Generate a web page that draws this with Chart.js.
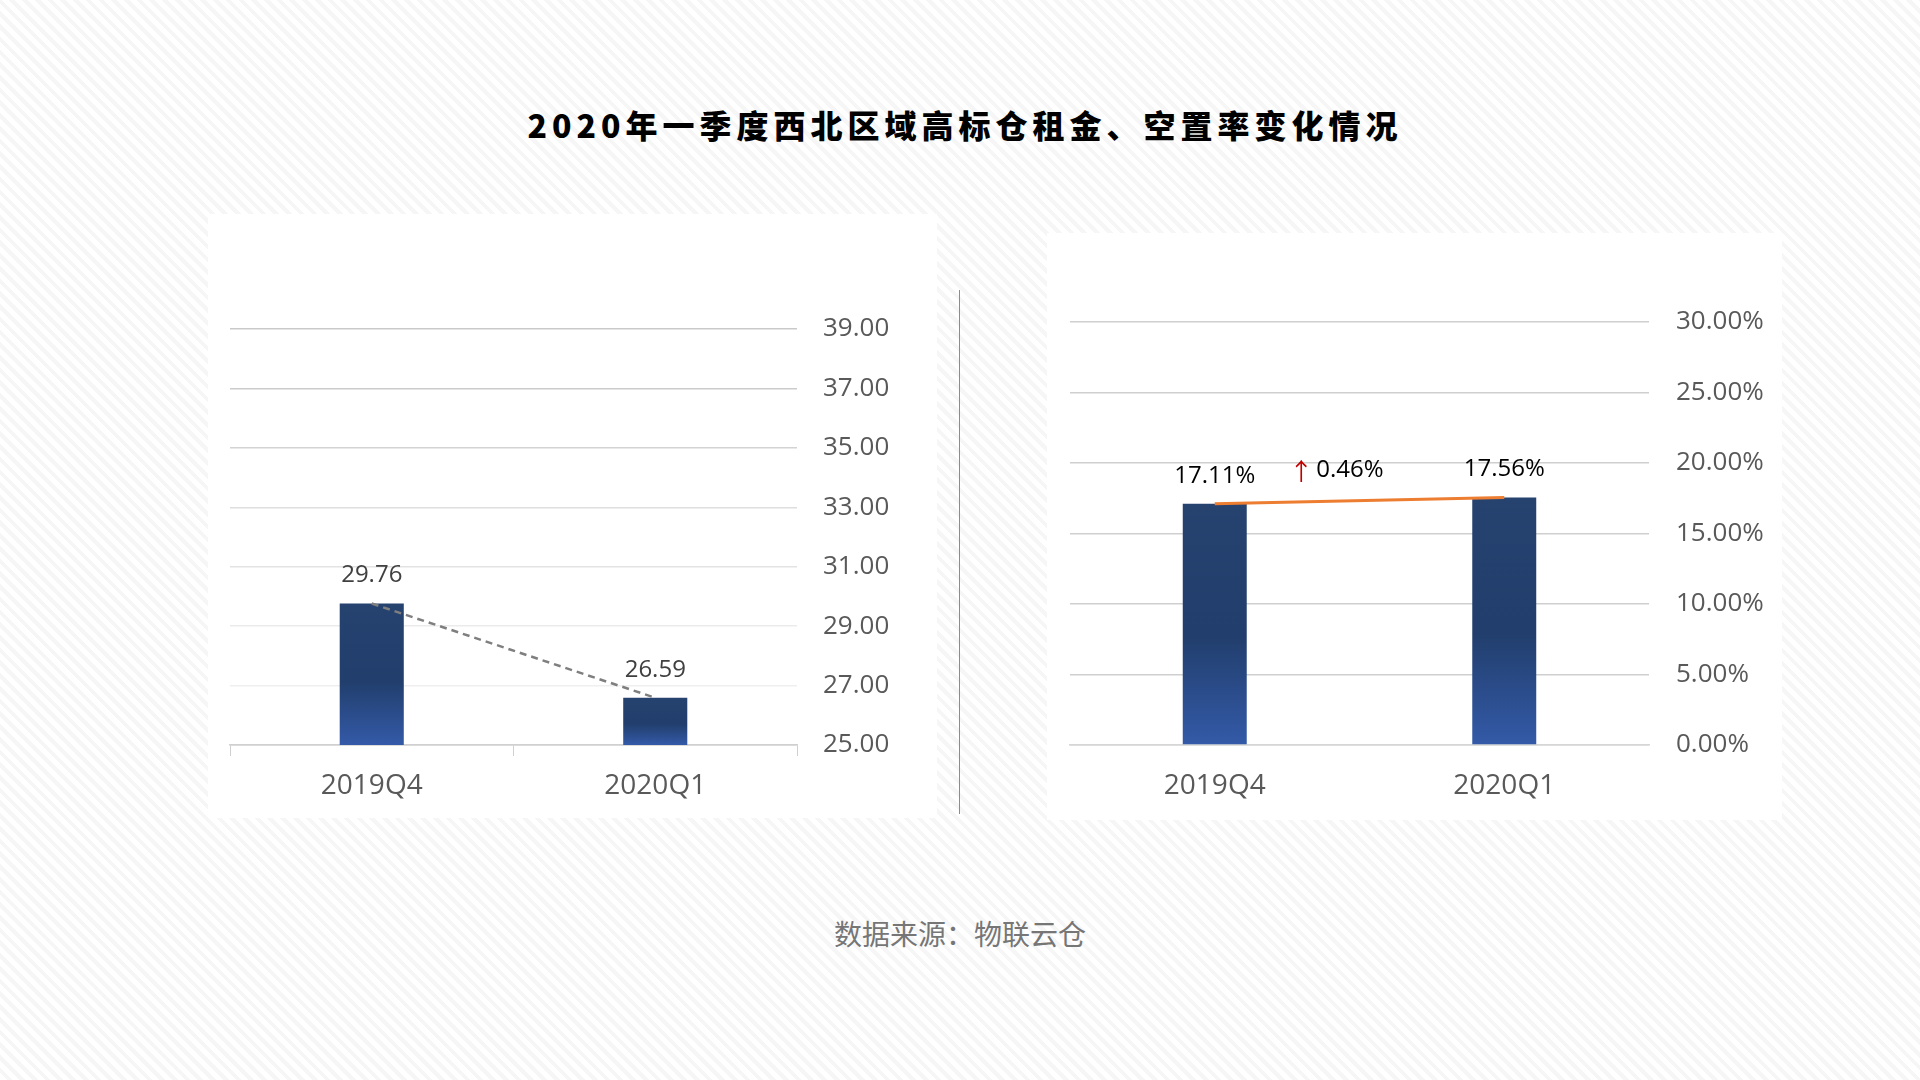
<!DOCTYPE html>
<html lang="zh-CN">
<head>
  <meta charset="UTF-8">
  <title>2020年一季度西北区域高标仓租金、空置率变化情况</title>
  <script src="https://cdn.jsdelivr.net/npm/chart.js@4.4.1/dist/chart.umd.min.js"></script>
  <style>
    html, body { margin: 0; padding: 0; }
    body {
      width: 1920px; height: 1080px; position: relative; overflow: hidden;
      background: repeating-linear-gradient(45deg, #ffffff 0 5px, #f6f6f6 5px 9px);
      font-family: "Open Sans", "Noto Sans CJK SC", sans-serif;
    }
    #title {
      position: absolute; left: 0; top: 101px; width: 1920px; height: 40px;
      line-height: 40px; text-align: center;
      font: 900 32px "Noto Sans CJK SC", sans-serif; letter-spacing: 5px; padding-left: 5px;
      color: #000;
    }
    #source {
      position: absolute; left: 0; top: 913px; width: 1920px; height: 40px;
      line-height: 40px; text-align: center;
      font: 28px "Noto Sans CJK SC", sans-serif; color: #767676;
    }
    .panel { position: absolute; background: #fff; }
    #divider { position: absolute; left: 959px; top: 290px; width: 1px; height: 524px; background: #8c8c8c; }
  </style>
</head>
<body>
  <div id="title">2020年一季度西北区域高标仓租金、空置率变化情况</div>

  <div class="panel" style="left:208px; top:214px; width:729px; height:604px;">
    <canvas id="rent-chart"></canvas>
  </div>
  <div id="divider"></div>
  <div class="panel" style="left:1047px; top:233px; width:735px; height:587px;">
    <canvas id="vacancy-chart"></canvas>
  </div>

  <div id="source">数据来源：物联云仓</div>

  <script>
    // data
    const categories = ['2019Q4', '2020Q1'];
    const rentValues = [29.76, 26.59];
    const vacancyValues = [17.11, 17.56];
    const rentTickMin = 25, rentTickMax = 39, rentTickStep = 2;
    const vacancyTickMin = 0, vacancyTickMax = 30, vacancyTickStep = 5;
    const vacancyChangeLabel = '0.46%';

    const tickColor = '#595959';
    const font = '"Open Sans", "Noto Sans", sans-serif';

    // each bar gets its own dark-to-light gradient
    function barGradient(ctx) {
      const chart = ctx.chart;
      if (!chart.chartArea || ctx.type !== 'data') return '#23406f';
      const y = chart.scales.y;
      const top = y.getPixelForValue(ctx.parsed.y);
      const bottom = y.bottom;
      const g = chart.ctx.createLinearGradient(0, top, 0, bottom);
      g.addColorStop(0, '#26426f');
      g.addColorStop(0.55, '#213e6c');
      g.addColorStop(1, '#345aa8');
      return g;
    }

    // value labels above the bars
    const valueLabels = {
      id: 'valueLabels',
      afterDatasetsDraw(chart, args, opts) {
        const ctx = chart.ctx;
        const bars = chart.getDatasetMeta(0).data;
        const values = chart.data.datasets[0].data;
        ctx.save();
        ctx.font = '24px ' + font;
        ctx.fillStyle = opts.color;
        ctx.textAlign = 'center';
        ctx.textBaseline = 'middle';
        bars.forEach((bar, i) => {
          ctx.fillText(opts.format(values[i]), bar.x, bar.y - 28);
        });
        if (opts.change) {
          const mx = (bars[0].x + bars[1].x) / 2 - 23;
          const my = (bars[0].y + bars[1].y) / 2 - 30;
          ctx.font = '24px "Noto Sans CJK SC", sans-serif';
          const arrowW = ctx.measureText('↑').width;
          ctx.font = '24px ' + font;
          const textW = ctx.measureText(opts.change).width;
          const gap = 3;
          const startX = mx - (arrowW + gap + textW) / 2;
          ctx.textAlign = 'left';
          ctx.font = '24px "Noto Sans CJK SC", sans-serif';
          ctx.fillStyle = '#c00000';
          ctx.fillText('↑', startX, my);
          ctx.font = '24px ' + font;
          ctx.fillStyle = '#000';
          ctx.fillText(opts.change, startX + arrowW + gap, my);
        }
        ctx.restore();
      }
    };

    const rentGridShades = { 39: '#c9c9c9', 37: '#cbcbcb', 35: '#d3d3d3', 33: '#dedede', 31: '#e3e3e3', 29: '#ebebeb', 27: '#efefef', 25: '#d0d0d0' };

    new Chart(document.getElementById('rent-chart'), {
      type: 'bar',
      data: {
        labels: categories,
        datasets: [
          { type: 'bar', data: rentValues, backgroundColor: barGradient, categoryPercentage: 1, barPercentage: 0.226, order: 1 },
          { type: 'line', data: rentValues, borderColor: '#7f7f7f', borderWidth: 2.5, borderDash: [7, 5], pointRadius: 0, fill: false, order: 0 }
        ]
      },
      options: {
        responsive: true, maintainAspectRatio: false, animation: false,
        layout: { padding: { left: 22, top: 115, right: 0, bottom: 0 } },
        plugins: {
          legend: { display: false }, tooltip: { enabled: false },
          valueLabels: { color: '#404040', format: v => v.toFixed(2) }
        },
        scales: {
          x: {
            grid: { display: true, drawOnChartArea: false, drawTicks: true, tickLength: 11, color: '#d0d0d0' },
            border: { color: '#d0d0d0', width: 1.5 },
            ticks: { color: tickColor, font: { family: font, size: 28 }, padding: 13 },
            afterFit: s => { s.height = 73; }
          },
          y: {
            position: 'right',
            min: rentTickMin, max: rentTickMax,
            grid: { drawTicks: false, color: c => rentGridShades[c.tick.value] || '#dddddd', lineWidth: 1.5 },
            border: { display: false },
            ticks: { stepSize: rentTickStep, callback: v => v.toFixed(2), color: tickColor, font: { family: font, size: 26 }, padding: 26 },
            afterFit: s => { s.width = 140; }
          }
        }
      },
      plugins: [valueLabels]
    });

    new Chart(document.getElementById('vacancy-chart'), {
      type: 'bar',
      data: {
        labels: categories,
        datasets: [
          { type: 'bar', data: vacancyValues, backgroundColor: barGradient, categoryPercentage: 1, barPercentage: 0.221, order: 1 },
          { type: 'line', data: vacancyValues, borderColor: '#ed7d31', borderWidth: 3, pointRadius: 0, fill: false, order: 0 }
        ]
      },
      options: {
        responsive: true, maintainAspectRatio: false, animation: false,
        layout: { padding: { left: 23, top: 89, right: 0, bottom: 0 } },
        plugins: {
          legend: { display: false }, tooltip: { enabled: false },
          valueLabels: { color: '#000', format: v => v.toFixed(2) + '%', change: vacancyChangeLabel }
        },
        scales: {
          x: {
            grid: { display: false, drawTicks: false },
            border: { color: '#d6d6d6', width: 1.5 },
            ticks: { color: tickColor, font: { family: font, size: 28 }, padding: 24 },
            afterFit: s => { s.height = 75; }
          },
          y: {
            position: 'right',
            min: vacancyTickMin, max: vacancyTickMax,
            grid: { drawTicks: false, color: '#cfcfcf', lineWidth: 1.5 },
            border: { display: false },
            ticks: { stepSize: vacancyTickStep, callback: v => v.toFixed(2) + '%', color: tickColor, font: { family: font, size: 26 }, padding: 27 },
            afterFit: s => { s.width = 133; }
          }
        }
      },
      plugins: [valueLabels]
    });
  </script>
</body>
</html>
